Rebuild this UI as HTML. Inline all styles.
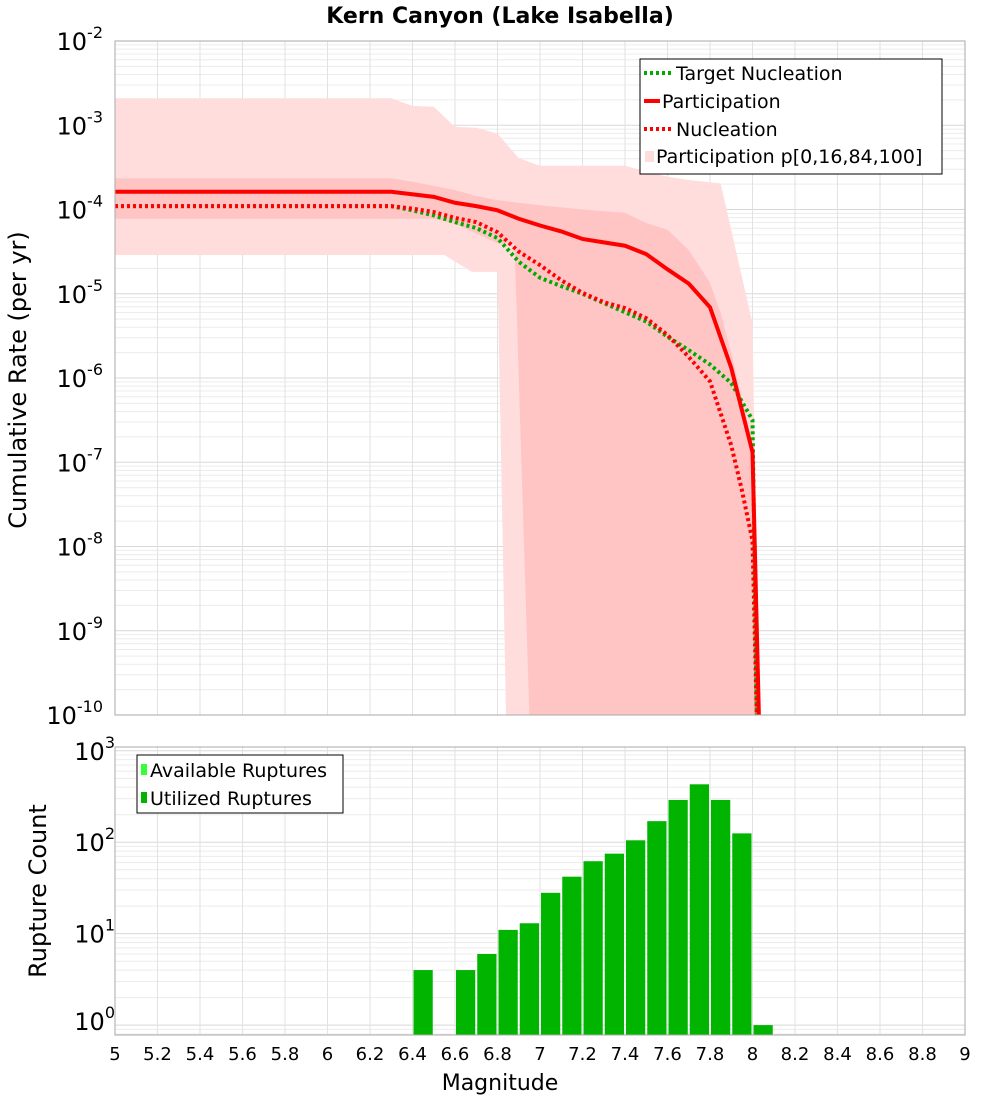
<!DOCTYPE html>
<html><head><meta charset="utf-8"><style>
body{margin:0;background:#fff;font-family:"Liberation Sans","DejaVu Sans",sans-serif}
svg text{font-family:"DejaVu Sans","Liberation Sans",sans-serif}
</style></head><body>
<svg id="c" width="1000" height="1100" xmlns="http://www.w3.org/2000/svg"></svg>
<script>
// ---- data (magnitudes, log10 rates) ----
const partM=[5,6.3,6.5,6.6,6.7,6.8,6.9,7.0,7.1,7.2,7.3,7.4,7.5,7.6,7.7,7.8,7.9,8.0,8.03];
const partL=[-3.79,-3.79,-3.85,-3.92,-3.96,-4.01,-4.11,-4.19,-4.26,-4.35,-4.39,-4.43,-4.53,-4.71,-4.88,-5.16,-5.88,-6.88,-10];
const nucM=[5,6.3,6.4,6.5,6.6,6.7,6.8,6.9,7.0,7.1,7.2,7.3,7.4,7.5,7.6,7.7,7.8,7.9,7.95,8.0,8.02];
const nucL=[-3.96,-3.96,-3.99,-4.03,-4.10,-4.15,-4.27,-4.50,-4.66,-4.84,-4.99,-5.10,-5.17,-5.29,-5.49,-5.75,-6.04,-6.80,-7.33,-7.93,-10];
const tgtM=[5,6.3,6.4,6.5,6.6,6.7,6.8,6.9,7.0,7.1,7.2,7.3,7.4,7.5,7.6,7.7,7.8,7.9,8.0,8.02];
const tgtL=[-3.96,-3.96,-4.01,-4.07,-4.15,-4.22,-4.34,-4.62,-4.81,-4.91,-5.00,-5.11,-5.22,-5.33,-5.51,-5.67,-5.84,-6.06,-6.50,-10];
const outUpM=[5,6.3,6.4,6.5,6.6,6.7,6.8,6.9,7.0,7.4,7.5,7.6,7.7,7.85,8.0,8.03];
const outUpL=[-2.68,-2.68,-2.77,-2.78,-3.02,-3.03,-3.10,-3.39,-3.48,-3.48,-3.55,-3.61,-3.65,-3.69,-5.35,-10];
const outLoM=[5,6.55,6.68,6.8,6.84];
const outLoL=[-4.54,-4.54,-4.74,-4.74,-10];
const inUpM=[5,6.3,6.4,6.5,6.6,6.7,6.8,7.0,7.2,7.4,7.5,7.6,7.7,7.8,7.85,7.9,8.0,8.02];
const inUpL=[-3.63,-3.63,-3.67,-3.72,-3.77,-3.84,-3.89,-3.95,-4.0,-4.04,-4.16,-4.24,-4.48,-4.87,-5.23,-5.7,-6.8,-10];
const inLoM=[5,6.5,6.6,6.8,6.88,6.95];
const inLoL=[-4.11,-4.11,-4.17,-4.40,-4.40,-10];
const barM=[6.45,6.65,6.75,6.85,6.95,7.05,7.15,7.25,7.35,7.45,7.55,7.65,7.75,7.85,7.95,8.05];
const barV=[4,4,6,11,13,28,42,62,75,105,170,290,430,290,125,1];
const xTicks=[5,5.2,5.4,5.6,5.8,6,6.2,6.4,6.6,6.8,7,7.2,7.4,7.6,7.8,8,8.2,8.4,8.6,8.8,9];
const topExp=[-2,-3,-4,-5,-6,-7,-8,-9,-10];
const botExp=[3,2,1,0];

const S=document.getElementById('c'),NS='http://www.w3.org/2000/svg';
function el(t,a,p){const e=document.createElementNS(NS,t);for(const k in a)e.setAttribute(k,a[k]);(p||S).appendChild(e);return e;}
const X0=115,X1=965;
const xs=m=>X0+(m-5)/4*(X1-X0);
const T0=41,T1=715;
const yt=l=>T0+(-2-l)/8*(T1-T0);
const B0=747,B1=1035,bLo=Math.log10(0.78),bHi=Math.log10(1100);
const yb=v=>B1-(Math.log10(v)-bLo)/(bHi-bLo)*(B1-B0);

// grids
function grid(y0,y1,yf,e0,e1){
  const g=el('g',{});  
  for(let e=e0;e<e1;e++)for(let k=1;k<10;k++){const y=yf(e+Math.log10(k));if(y<y0-0.5||y>y1+0.5)continue;
    el('line',{x1:X0,x2:X1,y1:y,y2:y,stroke:k==1?'#d8d8d8':'#ececec','stroke-width':1},g);}
  xTicks.forEach(m=>el('line',{x1:xs(m),x2:xs(m),y1:y0,y2:y1,stroke:'#e2e2e2','stroke-width':1},g));
}
grid(T0,T1,yt,-10,-1);
grid(B0,B1,l=>B1-(l-bLo)/(bHi-bLo)*(B1-B0),-1,4);

function band(um,ul,lm,ll,fill,name){
  const pts=[];um.forEach((m,i)=>pts.push(xs(m)+','+yt(ul[i])));
  for(let i=lm.length-1;i>=0;i--)pts.push(xs(lm[i])+','+yt(ll[i]));
  const p=el('polygon',{points:pts.join(' '),fill:fill});
  
}
band(outUpM,outUpL,outLoM,outLoL,'#ffdddd','band-p0-100');
band(inUpM,inUpL,inLoM,inLoL,'#ffc4c4','band-p16-84');
function line(ms,ls,col,dash,name){
  const p=el('polyline',{points:ms.map((m,i)=>xs(m)+','+Math.min(T1,yt(ls[i]))).join(' '),fill:'none',stroke:col,'stroke-width':4,'stroke-dasharray':dash||'none'});
  
}
line(tgtM,tgtL,'#00aa00','3,3','target-nucleation-line');
line(nucM,nucL,'#ff0000','3,3','nucleation-line');
line(partM,partL,'#ff0000',null,'participation-line');

// bars
barM.forEach((m,i)=>{const y=yb(barV[i]);const r=el('rect',{x:xs(m-0.05)+1,y:y,width:xs(5.1)-xs(5)-2,height:B1-y,fill:'#00b400'});
  });

// frames
el('rect',{x:X0,y:T0,width:X1-X0,height:T1-T0,fill:'none',stroke:'#aaa'});
el('rect',{x:X0,y:B0,width:X1-X0,height:B1-B0,fill:'none',stroke:'#aaa'});

// tick labels
function txt(x,y,s,size,anchor,name,weight){const t=el('text',{x:x,y:y,'font-size':size,'text-anchor':anchor||'start','font-weight':weight||'normal',fill:'#000'});t.textContent=s;
  return t;}
function pow(x,y,e,name){const t=txt(x,y,'10',24,'end',name);const s=el('tspan',{dy:-12,'font-size':16},t);s.textContent=e;}
topExp.forEach(e=>pow(103,yt(e)+9,e,'y-tick-label'));
botExp.forEach(e=>pow(115,yb(Math.pow(10,e))+(e==0?5:9),e,'y-tick-label-bottom'));
xTicks.forEach(m=>txt(xs(m),1060,String(m),18,'middle','x-tick-label'));
txt(500,23,'Kern Canyon (Lake Isabella)',22,'middle','chart-title','bold');
txt(500,1090,'Magnitude',22,'middle','x-axis-title');
const ya=txt(0,0,'Cumulative Rate (per yr)',24,'middle','y-axis-title');ya.setAttribute('transform','translate(26,380) rotate(-90)');
const yb2=txt(0,0,'Rupture Count',24,'middle','y-axis-title-bottom');yb2.setAttribute('transform','translate(46,891) rotate(-90)');

// legends
const lg=el('g',{});
el('rect',{x:640,y:59,width:302,height:115,fill:'#fff',stroke:'#000'},lg);
el('line',{x1:644,x2:672,y1:73,y2:73,stroke:'#00aa00','stroke-width':4,'stroke-dasharray':'3,3'},lg);
el('line',{x1:644,x2:660,y1:101,y2:101,stroke:'#ff0000','stroke-width':4},lg);
el('line',{x1:644,x2:672,y1:129,y2:129,stroke:'#ff0000','stroke-width':4,'stroke-dasharray':'3,3'},lg);
el('rect',{x:645,y:151,width:9,height:11,fill:'#ffdddd'},lg);
txt(676,80,'Target Nucleation',19,'start','legend-entry');
txt(662,108,'Participation',19,'start','legend-entry');
txt(676,136,'Nucleation',19,'start','legend-entry');
txt(656,163,'Participation p[0,16,84,100]',19,'start','legend-entry');
const lg2=el('g',{});
el('rect',{x:137,y:755,width:206,height:58,fill:'#fff',stroke:'#000'},lg2);
el('rect',{x:141,y:764,width:6,height:11,fill:'#33ff33'},lg2);
el('rect',{x:141,y:792,width:6,height:11,fill:'#00b400'},lg2);
txt(150,777,'Available Ruptures',19,'start','legend-entry');
txt(150,805,'Utilized Ruptures',19,'start','legend-entry');
</script>
</body></html>
